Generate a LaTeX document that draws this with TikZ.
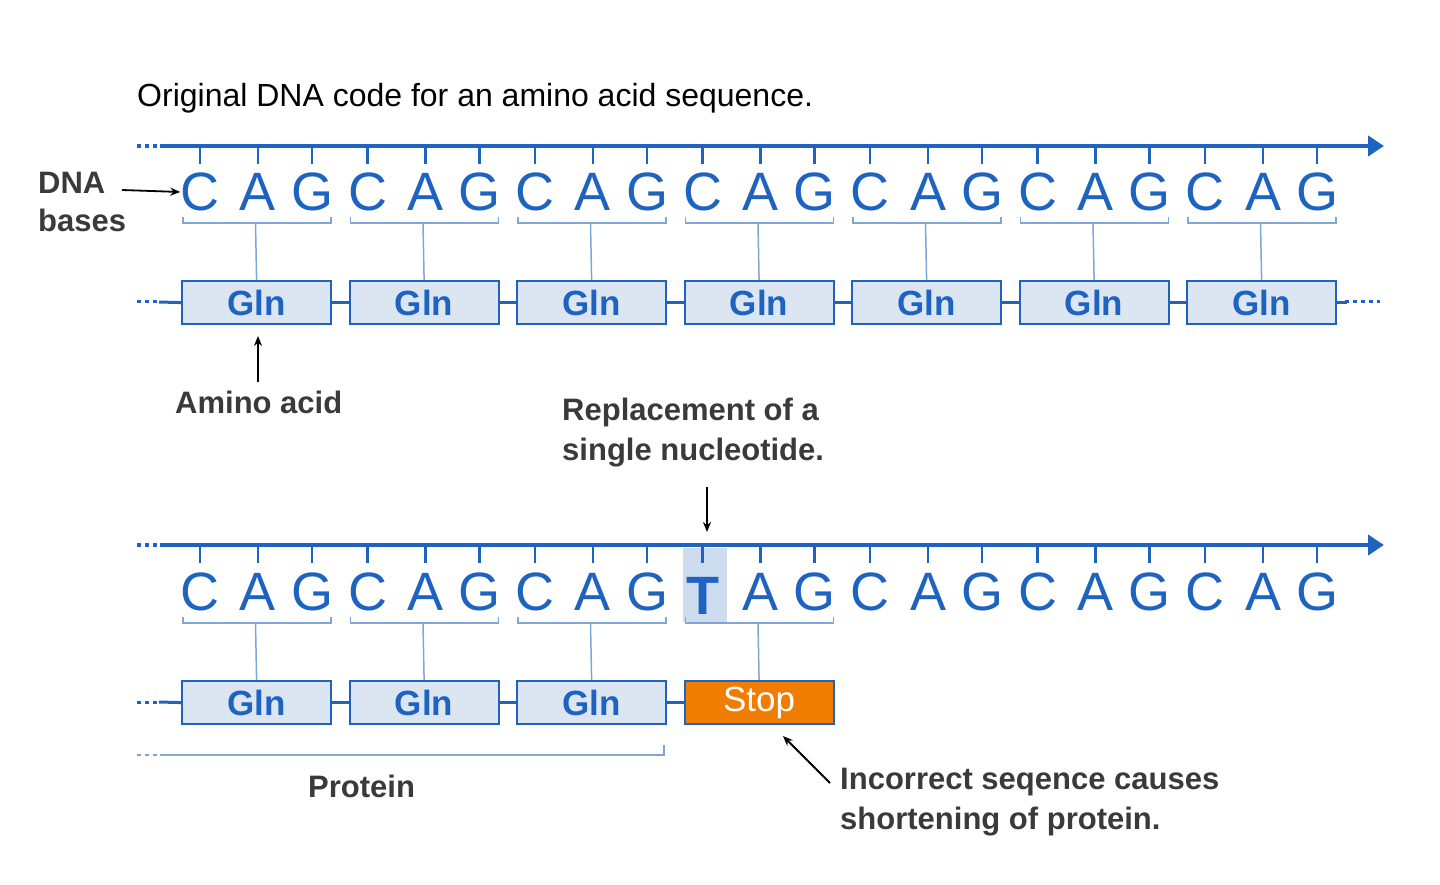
\documentclass[tikz,border=0pt]{standalone}
\usepackage{fontspec}
\setmainfont{Liberation Sans}
\usetikzlibrary{arrows.meta}
\definecolor{dblue}{HTML}{1F63C0}
\definecolor{lblue}{HTML}{7FA6D8}
\definecolor{bfill}{HTML}{DCE6F3}
\definecolor{orng}{HTML}{F07D00}
\definecolor{txt}{HTML}{3A3A3A}
\begin{document}
\begin{tikzpicture}[x=1pt,y=-1pt,
  base/.style={text=dblue,font=\fontsize{54}{54}\selectfont,inner sep=0,anchor=center},
  aa/.style={draw=dblue,line width=2.2pt,fill=bfill,minimum width=149pt,minimum height=43pt,inner sep=0,text=dblue,font=\bfseries\fontsize{35}{35}\selectfont,anchor=north west},
  stop/.style={aa,fill=orng,text=white,font=\fontsize{35}{35}\selectfont},
  lbl/.style={text=txt,font=\bfseries\fontsize{31}{36}\selectfont,inner sep=0,anchor=west},
  strand/.style={dblue,line width=4pt},
  dots/.style={dblue,line width=4pt,dash pattern=on 4pt off 4pt},
  chain/.style={dblue,line width=3pt},
  brk/.style={lblue,line width=1.5pt},
  note/.style={-{Stealth[length=10pt,width=8pt]},line width=1.8pt,black}]
\useasboundingbox (0,0) rectangle (1440,885);
\node[anchor=west,inner sep=0,font=\fontsize{32}{36}\selectfont,text=black] (title) at (137,98) {Original DNA code for an amino acid sequence.};
% ---------- top strand
\coordinate (t0) at (137,146); \coordinate (t1) at (160,146); \coordinate (t2) at (1384,146);
\draw[dots] (t0) -- (t1);
\draw[strand,-{Triangle[length=16pt,width=20pt]}] (t1) -- (t2);
% bottom strand
\coordinate (b0) at (137,545); \coordinate (b1) at (160,545); \coordinate (b2) at (1384,545);
\draw[dots] (b0) -- (b1);
\draw[strand,-{Triangle[length=16pt,width=20pt]}] (b1) -- (b2);
% T highlight
\fill[bfill!85!lblue] (683,548) rectangle (727,622);
% letters and ticks
\foreach \i in {0,...,6}{
  \foreach \L/\o [count=\k] in {C/18,A/76,G/130}{
    \pgfmathsetmacro\xx{182+\i*167.5+\o}
    \node[base] (u\i\k) at (\xx,192) {\L};
    \draw[dblue,line width=2.5pt] (\xx,146) -- (\xx,164);
    \pgfmathsetmacro\isT{(\i==3 && \k==1)?1:0}
    \ifnum\isT=1
      \node[base,font=\bfseries\fontsize{54}{54}\selectfont] (l\i\k) at (\xx,596) {T};
    \else
      \node[base] (l\i\k) at (\xx,592) {\L};
    \fi
    \draw[dblue,line width=2.5pt] (\xx,545) -- (\xx,563);
  }
  \pgfmathsetmacro\bx{181+\i*167.5}
  \pgfmathsetmacro\cx{\bx+74.5}
  % top bracket + box
  \draw[brk] (\bx+2,217) |- (\bx+150,223) -- (\bx+150,217);
  \node[aa] (g\i) at (\bx,280) {Gln};
  \coordinate (ct\i) at (\cx,223);
  \draw[brk] (ct\i) -- (g\i.north);
}
\foreach \i in {0,...,3}{
  \pgfmathsetmacro\bx{181+\i*167.5}
  \pgfmathsetmacro\cx{\bx+74.5}
  \draw[brk] (\bx+2,617) |- (\bx+150,623) -- (\bx+150,617);
  \coordinate (cb\i) at (\cx,623);
}
\node[aa] (h0) at (181,680) {Gln};
\node[aa] (h1) at (348.5,680) {Gln};
\node[aa] (h2) at (516,680) {Gln};
\node[stop] (h3) at (683.5,680) {Stop};
\foreach \i in {0,...,3}{\draw[brk] (cb\i) -- (h\i.north);}
% chains
\foreach \i/\j in {0/1,1/2,2/3,3/4,4/5,5/6}{\draw[chain] (g\i.east) -- (g\j.west);}
\foreach \i/\j in {0/1,1/2,2/3}{\draw[chain] (h\i.east) -- (h\j.west);}
\coordinate (ca) at (137,302); \coordinate (cb) at (1380,302);
\coordinate (cc) at (137,702);
\draw[dots,line width=3pt] (ca) -- ++(22,0); \draw[chain] (159,302) -- (g0.west);
\draw[chain] (g6.east) -- ++(10,0); \draw[dots,line width=3pt] (1345,302) -- (cb);
\draw[dots,line width=3pt] (cc) -- ++(22,0); \draw[chain] (159,702) -- (h0.west);
% protein bracket
\coordinate (p0) at (137,755);
\draw[lblue,line width=1.5pt,dash pattern=on 4pt off 4pt] (p0) -- ++(20,0);
\draw[brk] (160,755) -- (664,755) -- (664,745);
\node[lbl,font=\fontsize{31}{36}\selectfont\bfseries] (prot) at (308,786) {Protein};
% labels
\node[lbl,anchor=north west,align=left] (dna) at (38,172) {DNA\\[2pt]bases};
\draw[note] (122,190) -- (u01.west);
\node[lbl] (amino) at (175,402) {Amino acid};
\coordinate (ae) at (258,336);
\draw[note] (258,382) -- (ae);
\node[lbl,anchor=north west,align=left] (repl) at (562,398) {Replacement of a\\[4pt]single nucleotide.};
\coordinate (rs) at (707,487); \coordinate (re) at (707,532);
\draw[note] (rs) -- (re);
\node[lbl,anchor=north west,align=left] (inc) at (840,768) {Incorrect seqence causes\\[4pt]shortening of protein.};
\coordinate (ie) at (783,736);
\draw[note] (830,783) -- (ie);
\end{tikzpicture}
\end{document}
